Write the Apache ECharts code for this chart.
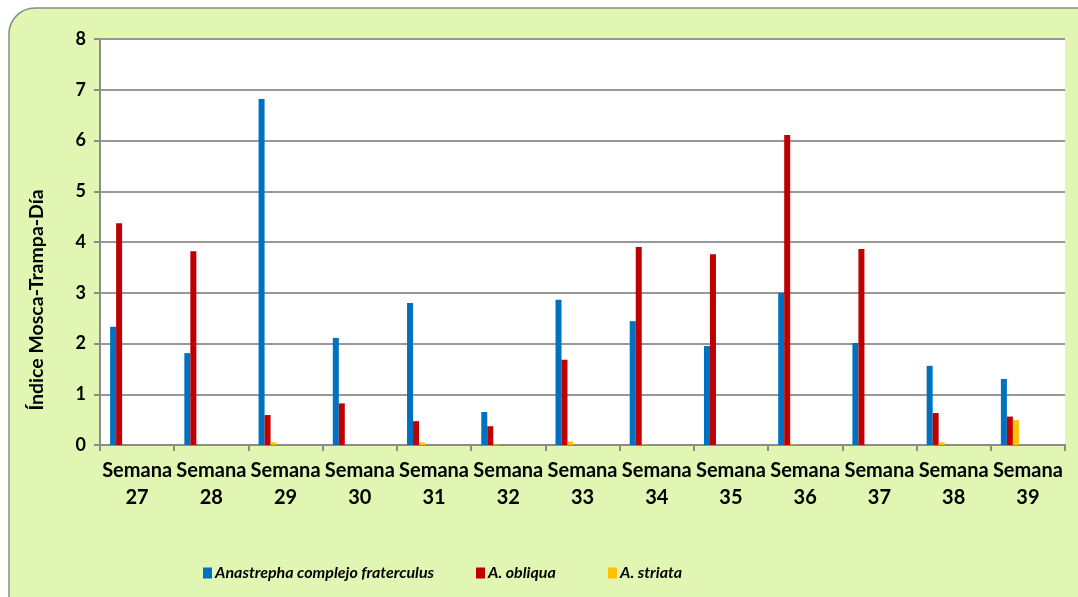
<!DOCTYPE html>
<html>
<head>
<meta charset="utf-8">
<script src="https://cdn.jsdelivr.net/npm/echarts@6/dist/echarts.min.js"></script>
<style>
html,body{margin:0;padding:0;background:#ffffff;}
#chart{width:1078px;height:597px;}
</style>
</head>
<body>
<div id="chart"></div>
<script>
const weeks = ['27','28','29','30','31','32','33','34','35','36','37','38','39'];
const categories = weeks.map(w => 'Semana\n' + w);
const fraterculus = [2.33, 1.81, 6.82, 2.11, 2.80, 0.65, 2.86, 2.44, 1.95, 3.00, 2.01, 1.56, 1.30];
const obliqua     = [4.37, 3.82, 0.59, 0.82, 0.47, 0.37, 1.68, 3.90, 3.76, 6.11, 3.86, 0.63, 0.56];
const striata     = [0.00, 0.00, 0.05, 0.00, 0.05, 0.01, 0.065, 0.01, 0.00, 0.01, 0.00, 0.05, 0.49];
const yTicks = [0,1,2,3,4,5,6,7,8];
const seriesNames = ['Anastrepha complejo fraterculus', 'A. obliqua', 'A. striata'];
const seriesColors = ['#0070C0', '#C00000', '#FFC000'];

const chart = echarts.init(document.getElementById('chart'), null, {renderer:'canvas'});
const FONT = 'Lato';
const barW = 6;
const realSeries = [fraterculus, obliqua, striata].map((d, i) => ({
  name: seriesNames[i], type: 'bar', data: d, barWidth: barW, barGap: '0%',
  itemStyle: {color: seriesColors[i]}, z: 3
}));
// empty placeholder slots so the three bars sit at the left of each category, as in the original
const emptySlots = [];
for (let k = 0; k < 6; k++) {
  emptySlots.push({name: 'slot' + k, type: 'bar', data: [], barWidth: barW, barGap: '0%', silent: true});
}

const legendLefts = [198, 471, 603];
const legends = seriesNames.map((n, i) => ({
  data: [n], left: legendLefts[i], top: 560, itemWidth: 9, itemHeight: 11,
  icon: 'rect', selectedMode: false,
  textStyle: {fontStyle: 'italic', fontWeight: 'bold', fontSize: 16, color: '#000', fontFamily: FONT, padding: [0,0,0,-2]}
}));

chart.setOption({
  animation: false,
  textStyle: {fontFamily: FONT},
  graphic: [
    {type: 'rect', z: -10, shape: {x: 9, y: 8, width: 1100, height: 620, r: 26},
     style: {fill: '#E0F6B2', stroke: '#8C8C8C', lineWidth: 1.5}},
    {type: 'text', z: 10, x: 37, y: 300, rotation: Math.PI / 2,
     style: {text: 'Índice Mosca-Trampa-Día', fill: '#000', font: 'bold 19.5px ' + FONT,
             textAlign: 'center', textVerticalAlign: 'middle'}}
  ],
  grid: {left: 100, right: 13, top: 39, bottom: 152, show: true, backgroundColor: '#ffffff', borderWidth: 0},
  legend: legends,
  xAxis: {
    type: 'category', data: categories,
    axisLine: {lineStyle: {color: '#8C8C8C', width: 2}},
    axisTick: {show: true, length: 6, lineStyle: {color: '#8C8C8C', width: 2}},
    axisLabel: {interval: 0, fontWeight: 'bold', fontSize: 20, color: '#000', lineHeight: 27, margin: 12, fontFamily: FONT},
    splitLine: {show: false}
  },
  yAxis: {
    type: 'value', min: 0, max: 8, interval: 1,
    axisLine: {show: true, lineStyle: {color: '#8C8C8C', width: 2}},
    axisTick: {show: true, length: 6, lineStyle: {color: '#8C8C8C', width: 2}},
    axisLabel: {fontWeight: 'bold', fontSize: 18, color: '#000', margin: 14, fontFamily: FONT,
                formatter: v => yTicks.includes(v) ? String(v) : ''},
    splitLine: {show: true, lineStyle: {color: '#989898', width: 2}}
  },
  series: realSeries.concat(emptySlots)
});
</script>
</body>
</html>
